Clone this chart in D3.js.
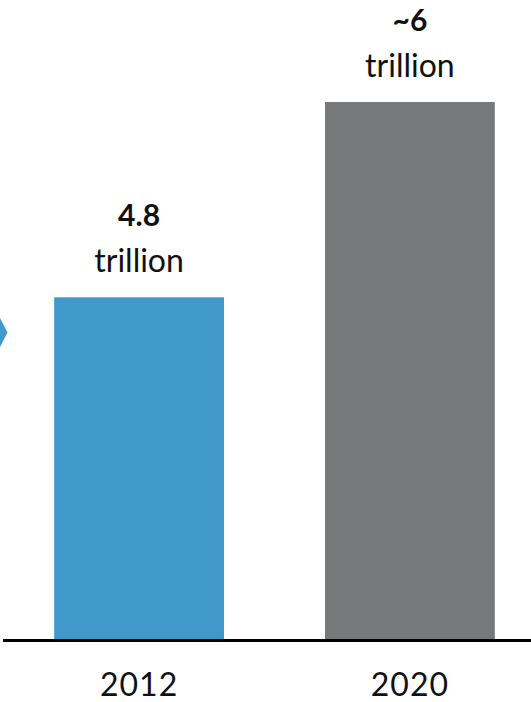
<!doctype html>
<html>
<head>
<meta charset="utf-8">
<script src="https://d3js.org/d3.v7.min.js"></script>
<style>
  body { margin: 0; background: #fff; }
  svg { display: block; }
</style>
</head>
<body>
<script>

// data
var years = ['2012', '2020'];
var values = [4.8, 6];
var valueLabels = ['4.8', '~6'];
var unitLabels = ['trillion', 'trillion'];
var barColors = ['#4199c9', '#77787a'];

// canvas
var width = 531, height = 702;
var baseY = 639;

var svg = d3.select('body').append('svg')
  .attr('width', width)
  .attr('height', height);

// scales (axis does not start at zero in the original)
var x = d3.scaleBand()
  .domain(years)
  .range([0, 549])
  .paddingInner(0.373)
  .paddingOuter(0.2);

var y = d3.scaleLinear()
  .domain([2.7, 6])
  .range([baseY, 102]);

// chevron tip from the previous panel, clipped at the left edge
svg.append('path')
  .attr('d', 'M-20,318 L0,318 L7.5,332.5 L0,347 L-20,347 Z')
  .attr('fill', barColors[0]);

// bars
svg.selectAll('rect.bar')
  .data(years)
  .enter()
  .append('rect')
  .attr('class', 'bar')
  .attr('x', function (d) { return x(d); })
  .attr('width', x.bandwidth())
  .attr('y', function (d, i) { return y(values[i]); })
  .attr('height', function (d, i) { return baseY - y(values[i]); })
  .attr('fill', function (d, i) { return barColors[i]; });

// baseline
svg.append('line')
  .attr('x1', 3)
  .attr('x2', width)
  .attr('y1', baseY + 1.5)
  .attr('y2', baseY + 1.5)
  .attr('stroke', '#000')
  .attr('stroke-width', 3);

// value labels
svg.selectAll('text.val')
  .data(years)
  .enter()
  .append('text')
  .attr('class', 'val')
  .attr('x', function (d) { return x(d) + x.bandwidth() / 2; })
  .attr('y', function (d, i) { return y(values[i]) - 71; })
  .attr('text-anchor', 'middle')
  .attr('font-family', 'Lato, sans-serif')
  .attr('font-weight', 'bold')
  .attr('font-size', 30)
  .attr('fill', '#111')
  .text(function (d, i) { return valueLabels[i]; });

svg.selectAll('text.unit')
  .data(years)
  .enter()
  .append('text')
  .attr('class', 'unit')
  .attr('x', function (d) { return x(d) + x.bandwidth() / 2; })
  .attr('y', function (d, i) { return y(values[i]) - 25; })
  .attr('text-anchor', 'middle')
  .attr('font-family', 'Lato, sans-serif')
  .attr('font-size', 32)
  .attr('fill', '#111')
  .text(function (d, i) { return unitLabels[i]; });

// year labels
svg.selectAll('text.year')
  .data(years)
  .enter()
  .append('text')
  .attr('class', 'year')
  .attr('x', function (d) { return x(d) + x.bandwidth() / 2; })
  .attr('y', 696)
  .attr('text-anchor', 'middle')
  .attr('font-family', 'Lato, sans-serif')
  .attr('font-size', 32)
  .attr('letter-spacing', 1)
  .attr('fill', '#111')
  .text(function (d) { return d; });

</script>
</body>
</html>
